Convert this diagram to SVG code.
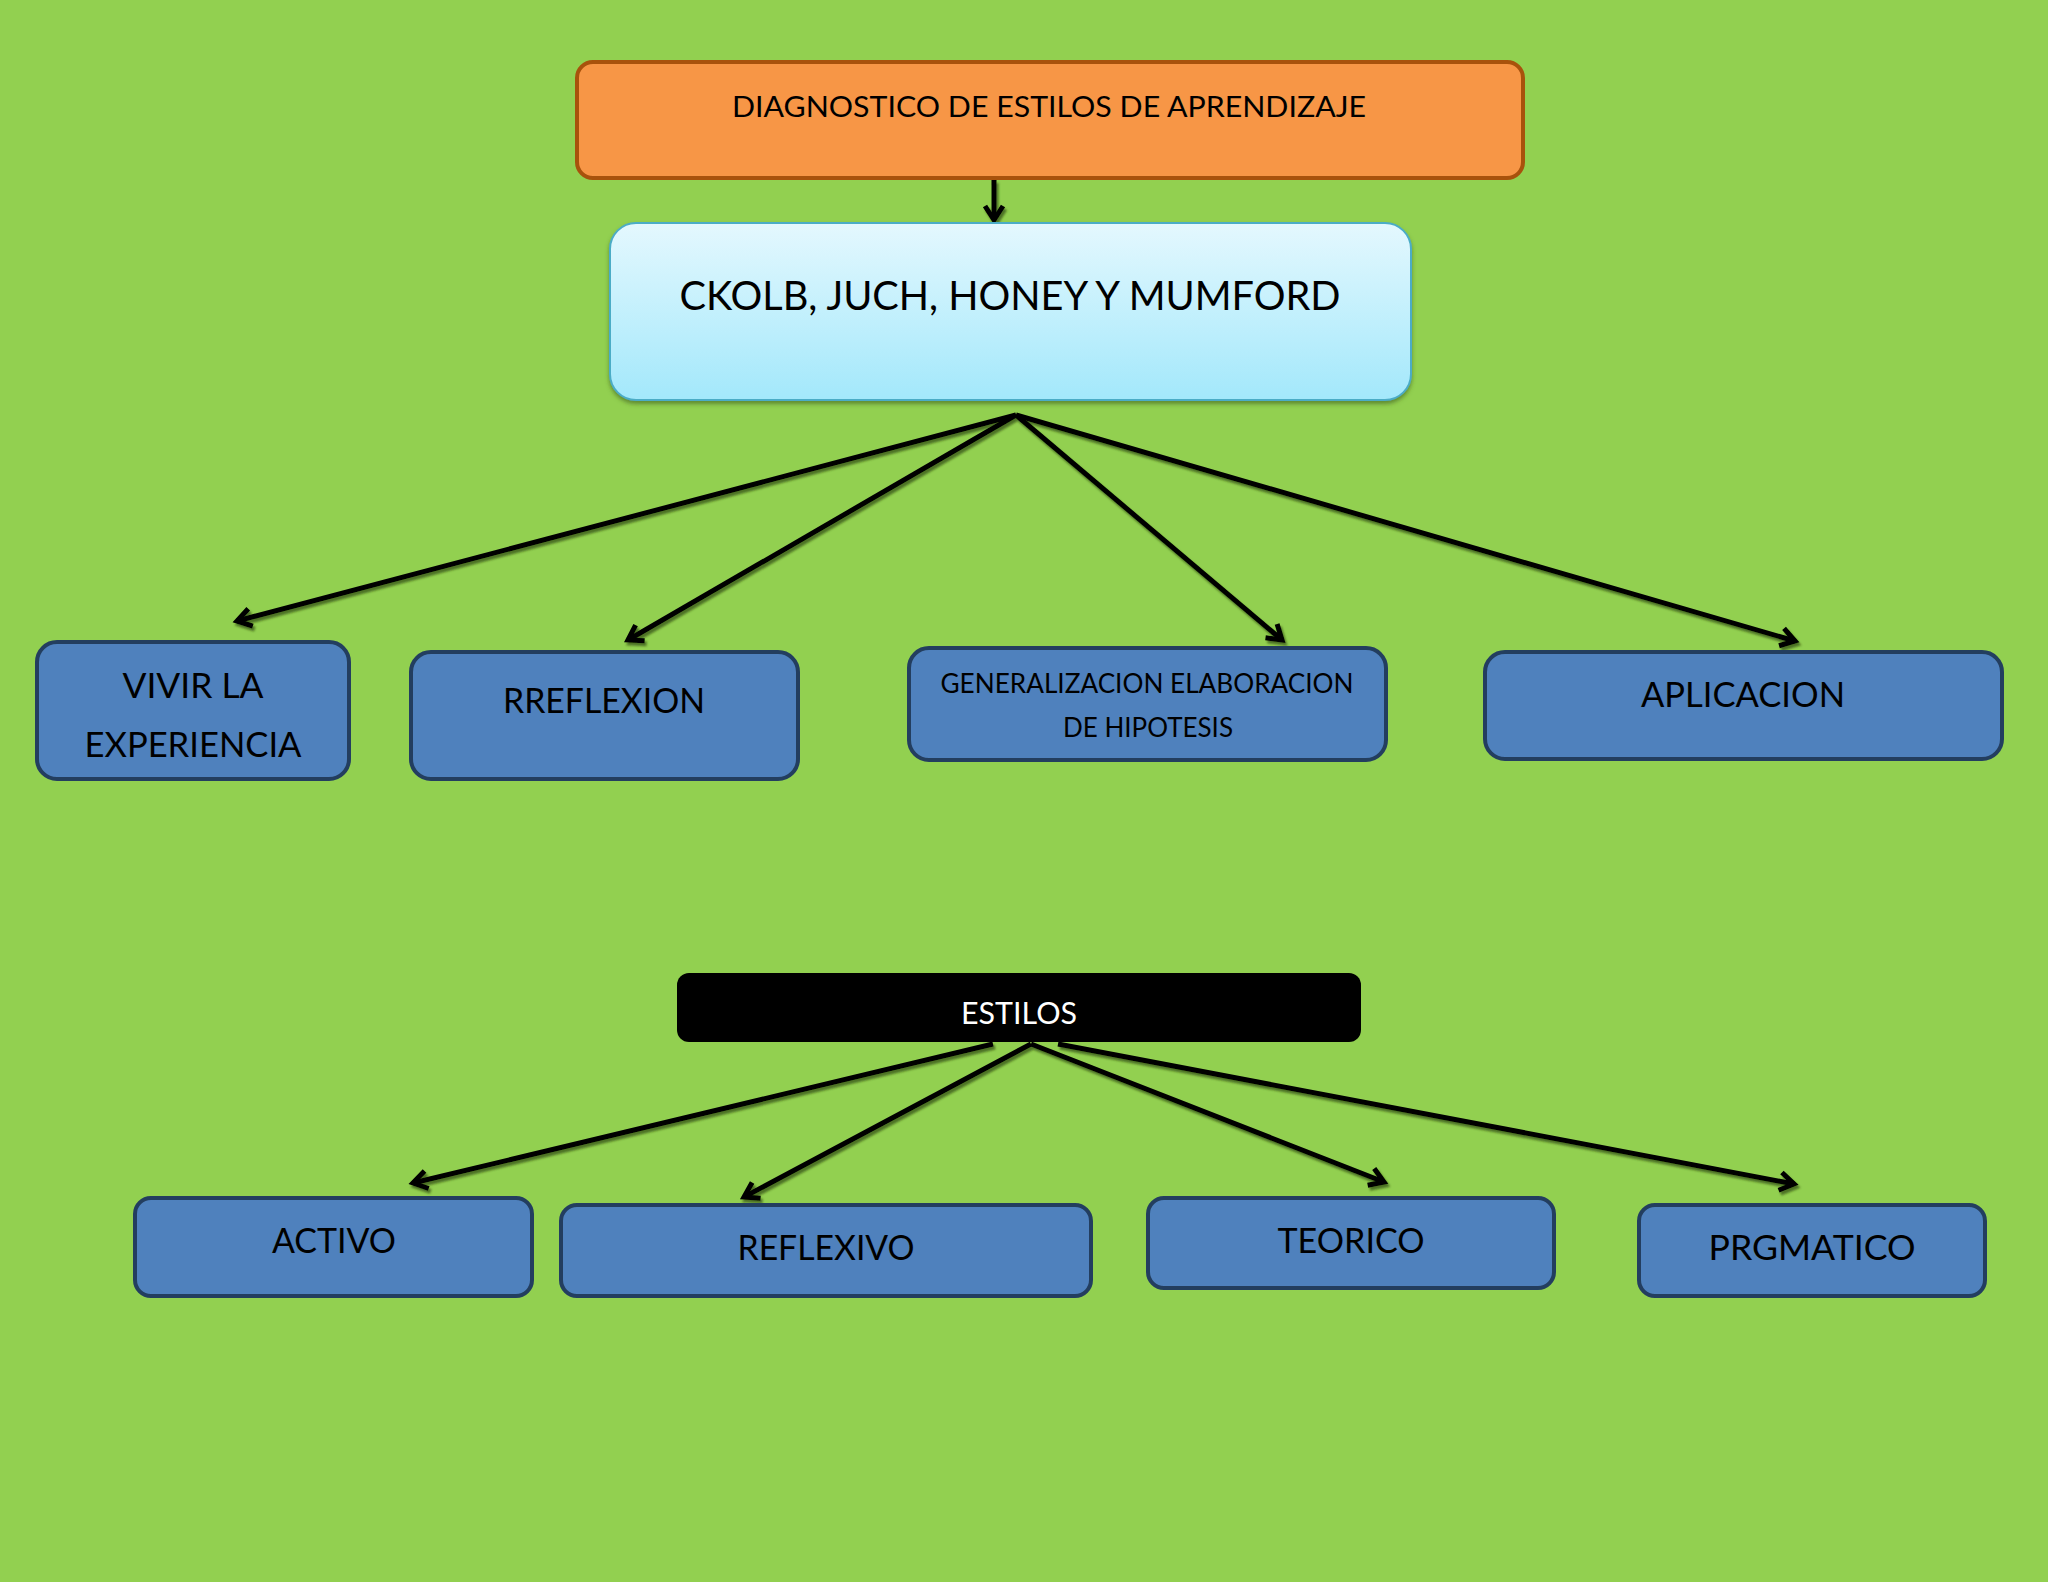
<svg xmlns="http://www.w3.org/2000/svg" width="2048" height="1582" viewBox="0 0 2048 1582">
<defs>
<style>
.t{font-family:Lato,"Liberation Sans",sans-serif;fill:#000;text-anchor:middle}
.blue{fill:#4F81BD;stroke:#233E5F;stroke-width:4}
.conn{stroke:#000;stroke-width:5;fill:none;marker-end:url(#ah)}
</style>
<linearGradient id="cy" x1="0" y1="0" x2="0" y2="1">
<stop offset="0" stop-color="#E4F8FE"/>
<stop offset="1" stop-color="#A3E8FB"/>
</linearGradient>
<filter id="sh" x="-5%" y="-5%" width="110%" height="115%">
<feDropShadow dx="2" dy="3" stdDeviation="1" flood-color="#2f4a14" flood-opacity="0.7"/>
</filter>
<filter id="bs" x="-5%" y="-5%" width="110%" height="120%">
<feDropShadow dx="0" dy="3" stdDeviation="2" flood-color="#3a5a1a" flood-opacity="0.6"/>
</filter>
<marker id="ah" markerUnits="userSpaceOnUse" viewBox="-20 -14 24 28" markerWidth="24" markerHeight="28" refX="0" refY="0" orient="auto" overflow="visible">
<path d="M-14,-9 L0,0 L-14,9" fill="none" stroke="#000" stroke-width="5" stroke-linejoin="miter"/>
</marker>
</defs>
<rect x="0" y="0" width="2048" height="1582" fill="#92D050"/>

<g id="connectors" filter="url(#sh)">
<line class="conn" x1="994" y1="180" x2="994" y2="220"/>
<line class="conn" x1="1016" y1="415" x2="237" y2="621"/>
<line class="conn" x1="1016" y1="415" x2="628" y2="640"/>
<line class="conn" x1="1016" y1="415" x2="1282" y2="640"/>
<line class="conn" x1="1016" y1="415" x2="1795" y2="641"/>
<line class="conn" x1="993" y1="1044" x2="413" y2="1183"/>
<line class="conn" x1="1031" y1="1044" x2="744" y2="1197"/>
<line class="conn" x1="1031" y1="1044" x2="1384" y2="1182"/>
<line class="conn" x1="1058" y1="1044" x2="1794" y2="1184"/>
</g>

<g id="n-diagnostico">
<rect x="577" y="62" width="946" height="116" rx="16" fill="#F79646" stroke="#A8520C" stroke-width="4"/>
<text class="t" x="1049" y="117" font-size="29" textLength="634" lengthAdjust="spacingAndGlyphs">DIAGNOSTICO DE ESTILOS DE APRENDIZAJE</text>
</g>

<g id="n-autores">
<rect x="610" y="223" width="801" height="177" rx="26" fill="url(#cy)" stroke="#4BACC6" stroke-width="2" filter="url(#bs)"/>
<text class="t" x="1010" y="310" font-size="40" textLength="661" lengthAdjust="spacingAndGlyphs">CKOLB, JUCH, HONEY Y MUMFORD</text>
</g>

<g id="n-vivir">
<rect class="blue" x="37" y="642" width="312" height="137" rx="20"/>
<text class="t" x="193" y="698" font-size="35" textLength="141" lengthAdjust="spacingAndGlyphs">VIVIR LA</text>
<text class="t" x="193" y="757" font-size="35" textLength="217" lengthAdjust="spacingAndGlyphs">EXPERIENCIA</text>
</g>

<g id="n-rreflexion">
<rect class="blue" x="411" y="652" width="387" height="127" rx="20"/>
<text class="t" x="604" y="713" font-size="35" textLength="202" lengthAdjust="spacingAndGlyphs">RREFLEXION</text>
</g>

<g id="n-generalizacion">
<rect class="blue" x="909" y="648" width="477" height="112" rx="20"/>
<text class="t" x="1147" y="693" font-size="26" textLength="413" lengthAdjust="spacingAndGlyphs">GENERALIZACION ELABORACION</text>
<text class="t" x="1148" y="737" font-size="26" textLength="170" lengthAdjust="spacingAndGlyphs">DE HIPOTESIS</text>
</g>

<g id="n-aplicacion">
<rect class="blue" x="1485" y="652" width="517" height="107" rx="20"/>
<text class="t" x="1743" y="707" font-size="35" textLength="204" lengthAdjust="spacingAndGlyphs">APLICACION</text>
</g>

<g id="n-estilos">
<rect x="677" y="973" width="684" height="69" rx="12" fill="#000"/>
<text class="t" x="1019" y="1024" font-size="30" fill="#fff" style="fill:#fff" textLength="116" lengthAdjust="spacingAndGlyphs">ESTILOS</text>
</g>

<g id="n-activo">
<rect class="blue" x="135" y="1198" width="397" height="98" rx="16"/>
<text class="t" x="334" y="1253" font-size="35" textLength="124" lengthAdjust="spacingAndGlyphs">ACTIVO</text>
</g>

<g id="n-reflexivo">
<rect class="blue" x="561" y="1205" width="530" height="91" rx="16"/>
<text class="t" x="826" y="1260" font-size="35" textLength="177" lengthAdjust="spacingAndGlyphs">REFLEXIVO</text>
</g>

<g id="n-teorico">
<rect class="blue" x="1148" y="1198" width="406" height="90" rx="16"/>
<text class="t" x="1351" y="1253" font-size="35" textLength="147" lengthAdjust="spacingAndGlyphs">TEORICO</text>
</g>

<g id="n-prgmatico">
<rect class="blue" x="1639" y="1205" width="346" height="91" rx="16"/>
<text class="t" x="1812" y="1260" font-size="35" textLength="207" lengthAdjust="spacingAndGlyphs">PRGMATICO</text>
</g>
</svg>
